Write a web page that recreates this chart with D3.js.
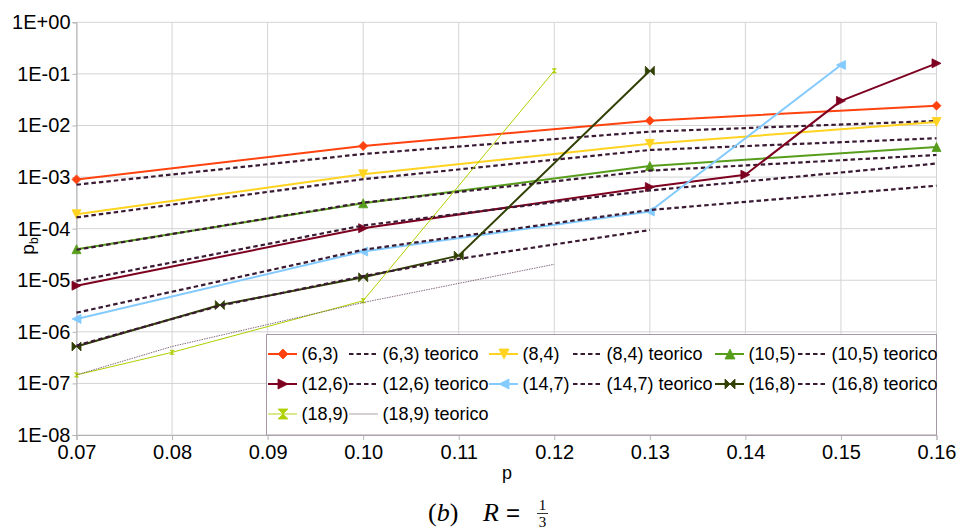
<!DOCTYPE html>
<html>
<head>
<meta charset="utf-8">
<script src="https://cdn.jsdelivr.net/npm/d3@7"></script>
<style>
  html, body { margin: 0; padding: 0; background: #fff; }
  svg { display: block; }
  text { font-family: "Liberation Sans", Arial, sans-serif; fill: #000; }
  .serif { font-family: "Liberation Serif", "DejaVu Serif", serif; }
</style>
</head>
<body>
<svg id="chart" width="960" height="530"></svg>
<script>
// Axis ticks
const xTicks = [0.07, 0.08, 0.09, 0.10, 0.11, 0.12, 0.13, 0.14, 0.15, 0.16];
const xTickLabels = ["0.07", "0.08", "0.09", "0.10", "0.11", "0.12", "0.13", "0.14", "0.15", "0.16"];
const yTicks = [1, 1e-1, 1e-2, 1e-3, 1e-4, 1e-5, 1e-6, 1e-7, 1e-8];
const yTickLabels = ["1E+00", "1E-01", "1E-02", "1E-03", "1E-04", "1E-05", "1E-06", "1E-07", "1E-08"];

// Codes (n,k)
const codes = ["(6,3)", "(8,4)", "(10,5)", "(12,6)", "(14,7)", "(16,8)", "(18,9)"];

// Simulated bit error probability p_b versus channel error probability p
const p63 = [0.07, 0.10, 0.13, 0.16];
const sim63 = [9.0e-4, 4.0e-3, 1.24e-2, 2.42e-2];
const p84 = [0.07, 0.10, 0.13, 0.16];
const sim84 = [1.9e-4, 1.13e-3, 4.4e-3, 1.17e-2];
const p105 = [0.07, 0.10, 0.13, 0.16];
const sim105 = [4.0e-5, 3.1e-4, 1.64e-3, 3.83e-3];
const p126 = [0.07, 0.10, 0.13, 0.14, 0.15, 0.16];
const sim126 = [7.85e-6, 1.02e-4, 6.4e-4, 1.11e-3, 3.0e-2, 1.6e-1];
const p147 = [0.07, 0.10, 0.13, 0.15];
const sim147 = [1.78e-6, 3.6e-5, 2.15e-4, 1.49e-1];
const p168 = [0.07, 0.085, 0.10, 0.11, 0.13];
const sim168 = [5.2e-7, 3.3e-6, 1.14e-5, 3.0e-5, 1.15e-1];
const p189 = [0.07, 0.08, 0.10, 0.12];
const sim189 = [1.46e-7, 4.0e-7, 4.0e-6, 1.15e-1];

// Theoretical p_b ("teorico")
const pt63 = [0.07, 0.10, 0.13, 0.16];
const teo63 = [7.1e-4, 2.8e-3, 7.6e-3, 1.22e-2];
const pt84 = [0.07, 0.10, 0.13, 0.16];
const teo84 = [1.65e-4, 9.1e-4, 3.35e-3, 5.65e-3];
const pt105 = [0.07, 0.10, 0.13, 0.16];
const teo105 = [3.9e-5, 3.2e-4, 1.33e-3, 2.68e-3];
const pt126 = [0.07, 0.10, 0.13, 0.16];
const teo126 = [9.7e-6, 1.15e-4, 5.5e-4, 1.83e-3];
const pt147 = [0.07, 0.10, 0.13, 0.16];
const teo147 = [2.35e-6, 3.9e-5, 2.3e-4, 6.8e-4];
const pt168 = [0.07, 0.085, 0.10, 0.11, 0.13];
const teo168 = [5.4e-7, 3.2e-6, 1.2e-5, 2.6e-5, 9.4e-5];
const pt189 = [0.07, 0.08, 0.10, 0.12];
const teo189 = [1.46e-7, 5.2e-7, 3.7e-6, 2.04e-5];

// Series styling
const colors = ["#ff420e", "#ffd320", "#579d1c", "#7e0021", "#83caff", "#314004", "#aecf00"];
const shapes = ["diamond", "down", "up", "right", "left", "bowtie", "hourglass"];
const teoColor = "#3a1a33";

const simP = [p63, p84, p105, p126, p147, p168, p189];
const simV = [sim63, sim84, sim105, sim126, sim147, sim168, sim189];
const teoP = [pt63, pt84, pt105, pt126, pt147, pt168, pt189];
const teoV = [teo63, teo84, teo105, teo126, teo147, teo168, teo189];

const series = codes.map((name, i) => ({
  name,
  color: colors[i],
  shape: shapes[i],
  thin: i === 6,
  sim: simP[i].map((p, j) => ({ p, v: simV[i][j] })),
  teo: teoP[i].map((p, j) => ({ p, v: teoV[i][j] }))
}));

function markerPath(shape, r) {
  switch (shape) {
    case "diamond": return `M0,${-r}L${r},0L0,${r}L${-r},0Z`;
    case "down": return `M${-r},${-r}L${r},${-r}L0,${r}Z`;
    case "up": return `M${-r},${r}L${r},${r}L0,${-r}Z`;
    case "right": return `M${-r},${-r}L${r},0L${-r},${r}Z`;
    case "left": return `M${r},${-r}L${-r},0L${r},${r}Z`;
    case "bowtie": return `M${-r},${-r}L${r},${r}L${r},${-r}L${-r},${r}Z`;
    case "hourglass": return `M${-r},${-r}L${r},${-r}L${-r},${r}L${r},${r}Z`;
  }
}

const svg = d3.select("#chart");
const plotLeft = 76.5, plotRight = 936.5, plotTop = 22.3, plotBottom = 435;

const x = d3.scaleLinear().domain([0.07, 0.16]).range([plotLeft, plotRight]);
const y = d3.scaleLog().domain([1e-8, 1]).range([plotBottom, plotTop]);

// Grid
const grid = svg.append("g");
grid.selectAll("line.h").data(yTicks).join("line")
  .attr("x1", plotLeft).attr("x2", plotRight)
  .attr("y1", d => y(d)).attr("y2", d => y(d))
  .attr("stroke", "#d4d4d4").attr("stroke-width", 1);
grid.selectAll("line.v").data(xTicks).join("line")
  .attr("y1", plotTop).attr("y2", plotBottom)
  .attr("x1", d => x(d)).attr("x2", d => x(d))
  .attr("stroke", "#d4d4d4").attr("stroke-width", 1);

// Axes
const xAxis = d3.axisBottom(x).tickValues(xTicks)
  .tickFormat((d, i) => xTickLabels[i]).tickSize(5).tickPadding(5);
const gx = svg.append("g").attr("transform", `translate(0,${plotBottom})`).call(xAxis);
gx.select(".domain").attr("stroke", "#b3b3b3");
gx.selectAll(".tick line").attr("stroke", "#b3b3b3");
gx.selectAll(".tick text").attr("font-size", 20).attr("font-family", "Liberation Sans, Arial, sans-serif").attr("fill", "#000");

const yAxis = d3.axisLeft(y).tickValues(yTicks)
  .tickFormat((d, i) => yTickLabels[i]).tickSize(4).tickPadding(2);
const gy = svg.append("g").attr("transform", `translate(${plotLeft},0)`).call(yAxis);
gy.select(".domain").attr("stroke", "#b3b3b3");
gy.selectAll(".tick line").attr("stroke", "#b3b3b3");
gy.selectAll(".tick text").attr("font-size", 20).attr("font-family", "Liberation Sans, Arial, sans-serif").attr("fill", "#000");

// Axis titles
svg.append("text").attr("x", 507).attr("y", 479).attr("text-anchor", "middle")
  .attr("font-size", 18).text("p");
const yl = svg.append("text").attr("transform", "translate(34,246) rotate(-90)")
  .attr("text-anchor", "middle").attr("font-size", 19);
yl.append("tspan").text("p");
yl.append("tspan").attr("font-size", 12).attr("dy", 4).text("b");

// Lines
const line = d3.line().x(d => x(d.p)).y(d => y(d.v));
const plot = svg.append("g");

series.forEach(s => {
  const g = plot.append("g");
  g.append("path").datum(s.sim).attr("d", line)
    .attr("fill", "none").attr("stroke", s.color)
    .attr("stroke-width", s.thin ? 1 : 2).attr("stroke-linejoin", "round");
  g.selectAll("path.m").data(s.sim).join("path")
    .attr("transform", d => `translate(${x(d.p)},${y(d.v)})`)
    .attr("d", markerPath(s.shape, s.thin ? 2.2 : 4.5))
    .attr("fill", s.color).attr("stroke", s.color).attr("stroke-width", s.thin ? 0.5 : 0.8);

  const t = plot.append("path").datum(s.teo).attr("d", line)
    .attr("fill", "none").attr("stroke-linejoin", "round");
  if (s.thin) {
    t.attr("stroke", "#7a5a72").attr("stroke-width", 0.9).attr("stroke-dasharray", "1.5,1");
  } else {
    t.attr("stroke", teoColor).attr("stroke-width", 2.2).attr("stroke-dasharray", "4.5,3");
  }
});

// Legend
const legend = svg.append("g");
legend.append("rect").attr("x", 266.5).attr("y", 334.5).attr("width", 670).attr("height", 100.5)
  .attr("fill", "#fff").attr("stroke", "#a897a8").attr("stroke-width", 1);

const colX = [268, 349, 489, 573, 715, 798];
const rowY = [354, 384, 414];
const items = [];
series.forEach(s => {
  items.push({ label: s.name, kind: "sim", s });
  items.push({ label: s.name + " teorico", kind: "teo", s });
});
items.forEach((it, k) => {
  const cx = colX[k % 6], cy = rowY[Math.floor(k / 6)];
  const g = legend.append("g").attr("transform", `translate(${cx},${cy})`);
  if (it.kind === "sim") {
    g.append("line").attr("x1", 0).attr("x2", 29).attr("y1", 0).attr("y2", 0)
      .attr("stroke", it.s.color).attr("stroke-width", 2)
      .attr("stroke-opacity", it.s.thin ? 0.45 : 1);
    g.append("path").attr("transform", "translate(15,0)")
      .attr("d", markerPath(it.s.shape, 5))
      .attr("fill", it.s.color).attr("stroke", it.s.color).attr("stroke-width", 0.8);
  } else if (it.s.thin) {
    g.append("line").attr("x1", 0).attr("x2", 29).attr("y1", 0).attr("y2", 0)
      .attr("stroke", "#c4bcc2").attr("stroke-width", 1.4);
  } else {
    g.append("line").attr("x1", 0).attr("x2", 29).attr("y1", 0).attr("y2", 0)
      .attr("stroke", teoColor).attr("stroke-width", 2.2).attr("stroke-dasharray", "4.5,3");
  }
  g.append("text").attr("x", 33.5).attr("y", 0).attr("dy", "0.35em")
    .attr("font-size", 18).text(it.label);
});

// Caption
const cap = svg.append("g");
const capText = cap.append("text").attr("class", "serif").attr("x", 428).attr("y", 521).attr("font-size", 26);
capText.append("tspan").text("(");
capText.append("tspan").attr("font-style", "italic").text("b");
capText.append("tspan").text(")");
cap.append("text").attr("class", "serif").attr("x", 483).attr("y", 521).attr("font-size", 26)
  .attr("font-style", "italic").text("R");
cap.append("text").attr("x", 513).attr("y", 521).attr("font-size", 24)
  .attr("font-family", "DejaVu Serif, serif").attr("text-anchor", "middle").text("=");
cap.append("text").attr("class", "serif").attr("x", 542.5).attr("y", 509.5).attr("font-size", 15)
  .attr("text-anchor", "middle").text("1");
cap.append("line").attr("x1", 537).attr("x2", 548).attr("y1", 513.5).attr("y2", 513.5)
  .attr("stroke", "#000").attr("stroke-width", 0.8);
cap.append("text").attr("class", "serif").attr("x", 542.5).attr("y", 526.5).attr("font-size", 15)
  .attr("text-anchor", "middle").text("3");
</script>
</body>
</html>
